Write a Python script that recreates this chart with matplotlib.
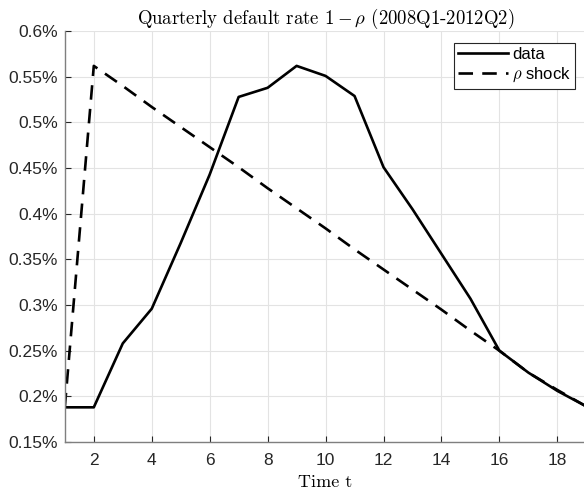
import matplotlib
matplotlib.use("Agg")
import matplotlib.pyplot as plt
from matplotlib.ticker import FuncFormatter

# quarterly default rate, in percent
t = list(range(1, 20))
data = [0.188, 0.188, 0.258, 0.296, 0.368, 0.443, 0.528, 0.538, 0.562, 0.551,
        0.529, 0.451, 0.405, 0.356, 0.307, 0.250, 0.226, 0.206, 0.189]
rho_shock = [0.188, 0.562, 0.540, 0.517, 0.495, 0.473, 0.451, 0.428, 0.406, 0.384,
             0.361, 0.339, 0.317, 0.295, 0.272, 0.250, 0.226, 0.207, 0.189]
xticks = [2, 4, 6, 8, 10, 12, 14, 16, 18]
yticks = [0.15, 0.2, 0.25, 0.3, 0.35, 0.4, 0.45, 0.5, 0.55, 0.6]

plt.rcParams['font.family'] = ['Liberation Sans', 'DejaVu Sans']
plt.rcParams['mathtext.fontset'] = 'cm'

fig = plt.figure(figsize=(5.84, 4.92), dpi=100)
ax = fig.add_axes([0.111, 0.1016, 0.893, 0.835])

# plotting the series
ax.plot(t, data, color='black', lw=1.9, label='data')
ax.plot(t, rho_shock, color='black', lw=1.9, ls=(0, (5.5, 3.5)), label=r'$\rho$ shock')

ax.set_xlim(1, 19)
ax.set_ylim(0.15, 0.6)
ax.set_xticks(xticks)
ax.set_yticks(yticks)
ax.yaxis.set_major_formatter(FuncFormatter(lambda v, p: f'{v:g}%'))
ax.tick_params(direction='in', length=4, labelsize=12.5, colors='#262626',
               top=False, right=False)
ax.tick_params(axis='x', pad=8)
ax.tick_params(axis='y', pad=5)

ax.grid(True, color='#e3e3e3', lw=0.8)
ax.set_axisbelow(True)
for s in ['top', 'right']:
    ax.spines[s].set_visible(False)
for s in ['left', 'bottom']:
    ax.spines[s].set_color('#7f7f7f')
    ax.spines[s].set_linewidth(1.0)

ax.set_title(r'Quarterly default rate $1-\rho$ (2008Q1-2012Q2)',
             fontfamily='cmr10', fontsize=13.5, pad=5)
ax.set_xlabel('Time t', fontfamily='cmr10', fontsize=13, labelpad=5)

leg = ax.legend(loc='upper right', bbox_to_anchor=(0.978, 0.972), fontsize=12,
                handlelength=3.0, handletextpad=0.25, borderpad=0.25,
                labelspacing=0.25, fancybox=False, framealpha=1,
                edgecolor='#262626', borderaxespad=0)
leg.get_frame().set_linewidth(0.8)

fig.savefig('out.png', dpi=100)
